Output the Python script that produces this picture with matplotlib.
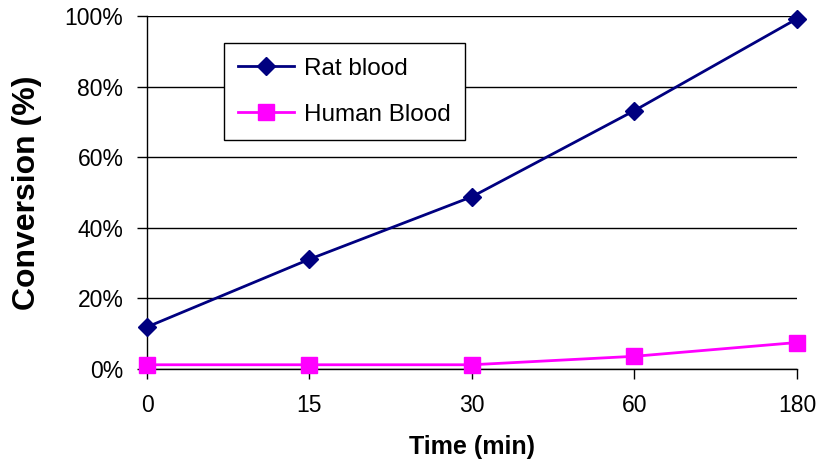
import matplotlib
matplotlib.use("Agg")
import matplotlib.pyplot as plt
from matplotlib.ticker import PercentFormatter

# data
times = ["0", "15", "30", "60", "180"]
rat = [11.9, 31.1, 48.8, 73.2, 99.2]
human = [1.2, 1.2, 1.2, 3.6, 7.5]

plt.rcParams['font.family'] = ['Liberation Sans', 'DejaVu Sans']

fig = plt.figure(figsize=(8.19, 4.62), dpi=100)
ax = fig.add_axes([0.1795, 0.2013, 0.7935, 0.7641])

x = list(range(len(times)))
ax.plot(x, rat, color="#000080", marker="D", markersize=9.5, linewidth=2,
        label="Rat blood", clip_on=False, zorder=3)
ax.plot(x, human, color="#FF00FF", marker="s", markersize=12, linewidth=2,
        label="Human Blood", clip_on=False, zorder=3)

ax.set_xlim(0, len(times) - 1)
ax.set_ylim(0, 100)
ax.set_xticks(x)
ax.set_xticklabels(times)
ax.set_yticks(range(0, 101, 20))
ax.yaxis.set_major_formatter(PercentFormatter(decimals=0))
ax.tick_params(labelsize=16.5, color="black", length=7, width=1)
ax.tick_params(axis="y", pad=10)
ax.tick_params(axis="x", pad=11)
ax.grid(axis="y", color="black", linewidth=1)
ax.set_axisbelow(True)

for s in ["top", "right"]:
    ax.spines[s].set_visible(False)
for s in ["left", "bottom"]:
    ax.spines[s].set_color("black")
    ax.spines[s].set_linewidth(1)

ax.set_xlabel("Time (min)", fontsize=18, fontweight="bold", labelpad=13)
ax.set_ylabel("Conversion (%)", fontsize=23, fontweight="bold", labelpad=16)

leg = ax.legend(loc="upper left", bbox_to_anchor=(0.118, 0.9235), fontsize=17.5,
                frameon=True, fancybox=False, edgecolor="black", framealpha=1,
                borderpad=0.6, labelspacing=1.0, handlelength=2.3,
                handletextpad=0.4, borderaxespad=0)
leg.get_frame().set_linewidth(1)

fig.savefig("out.png", dpi=100)
